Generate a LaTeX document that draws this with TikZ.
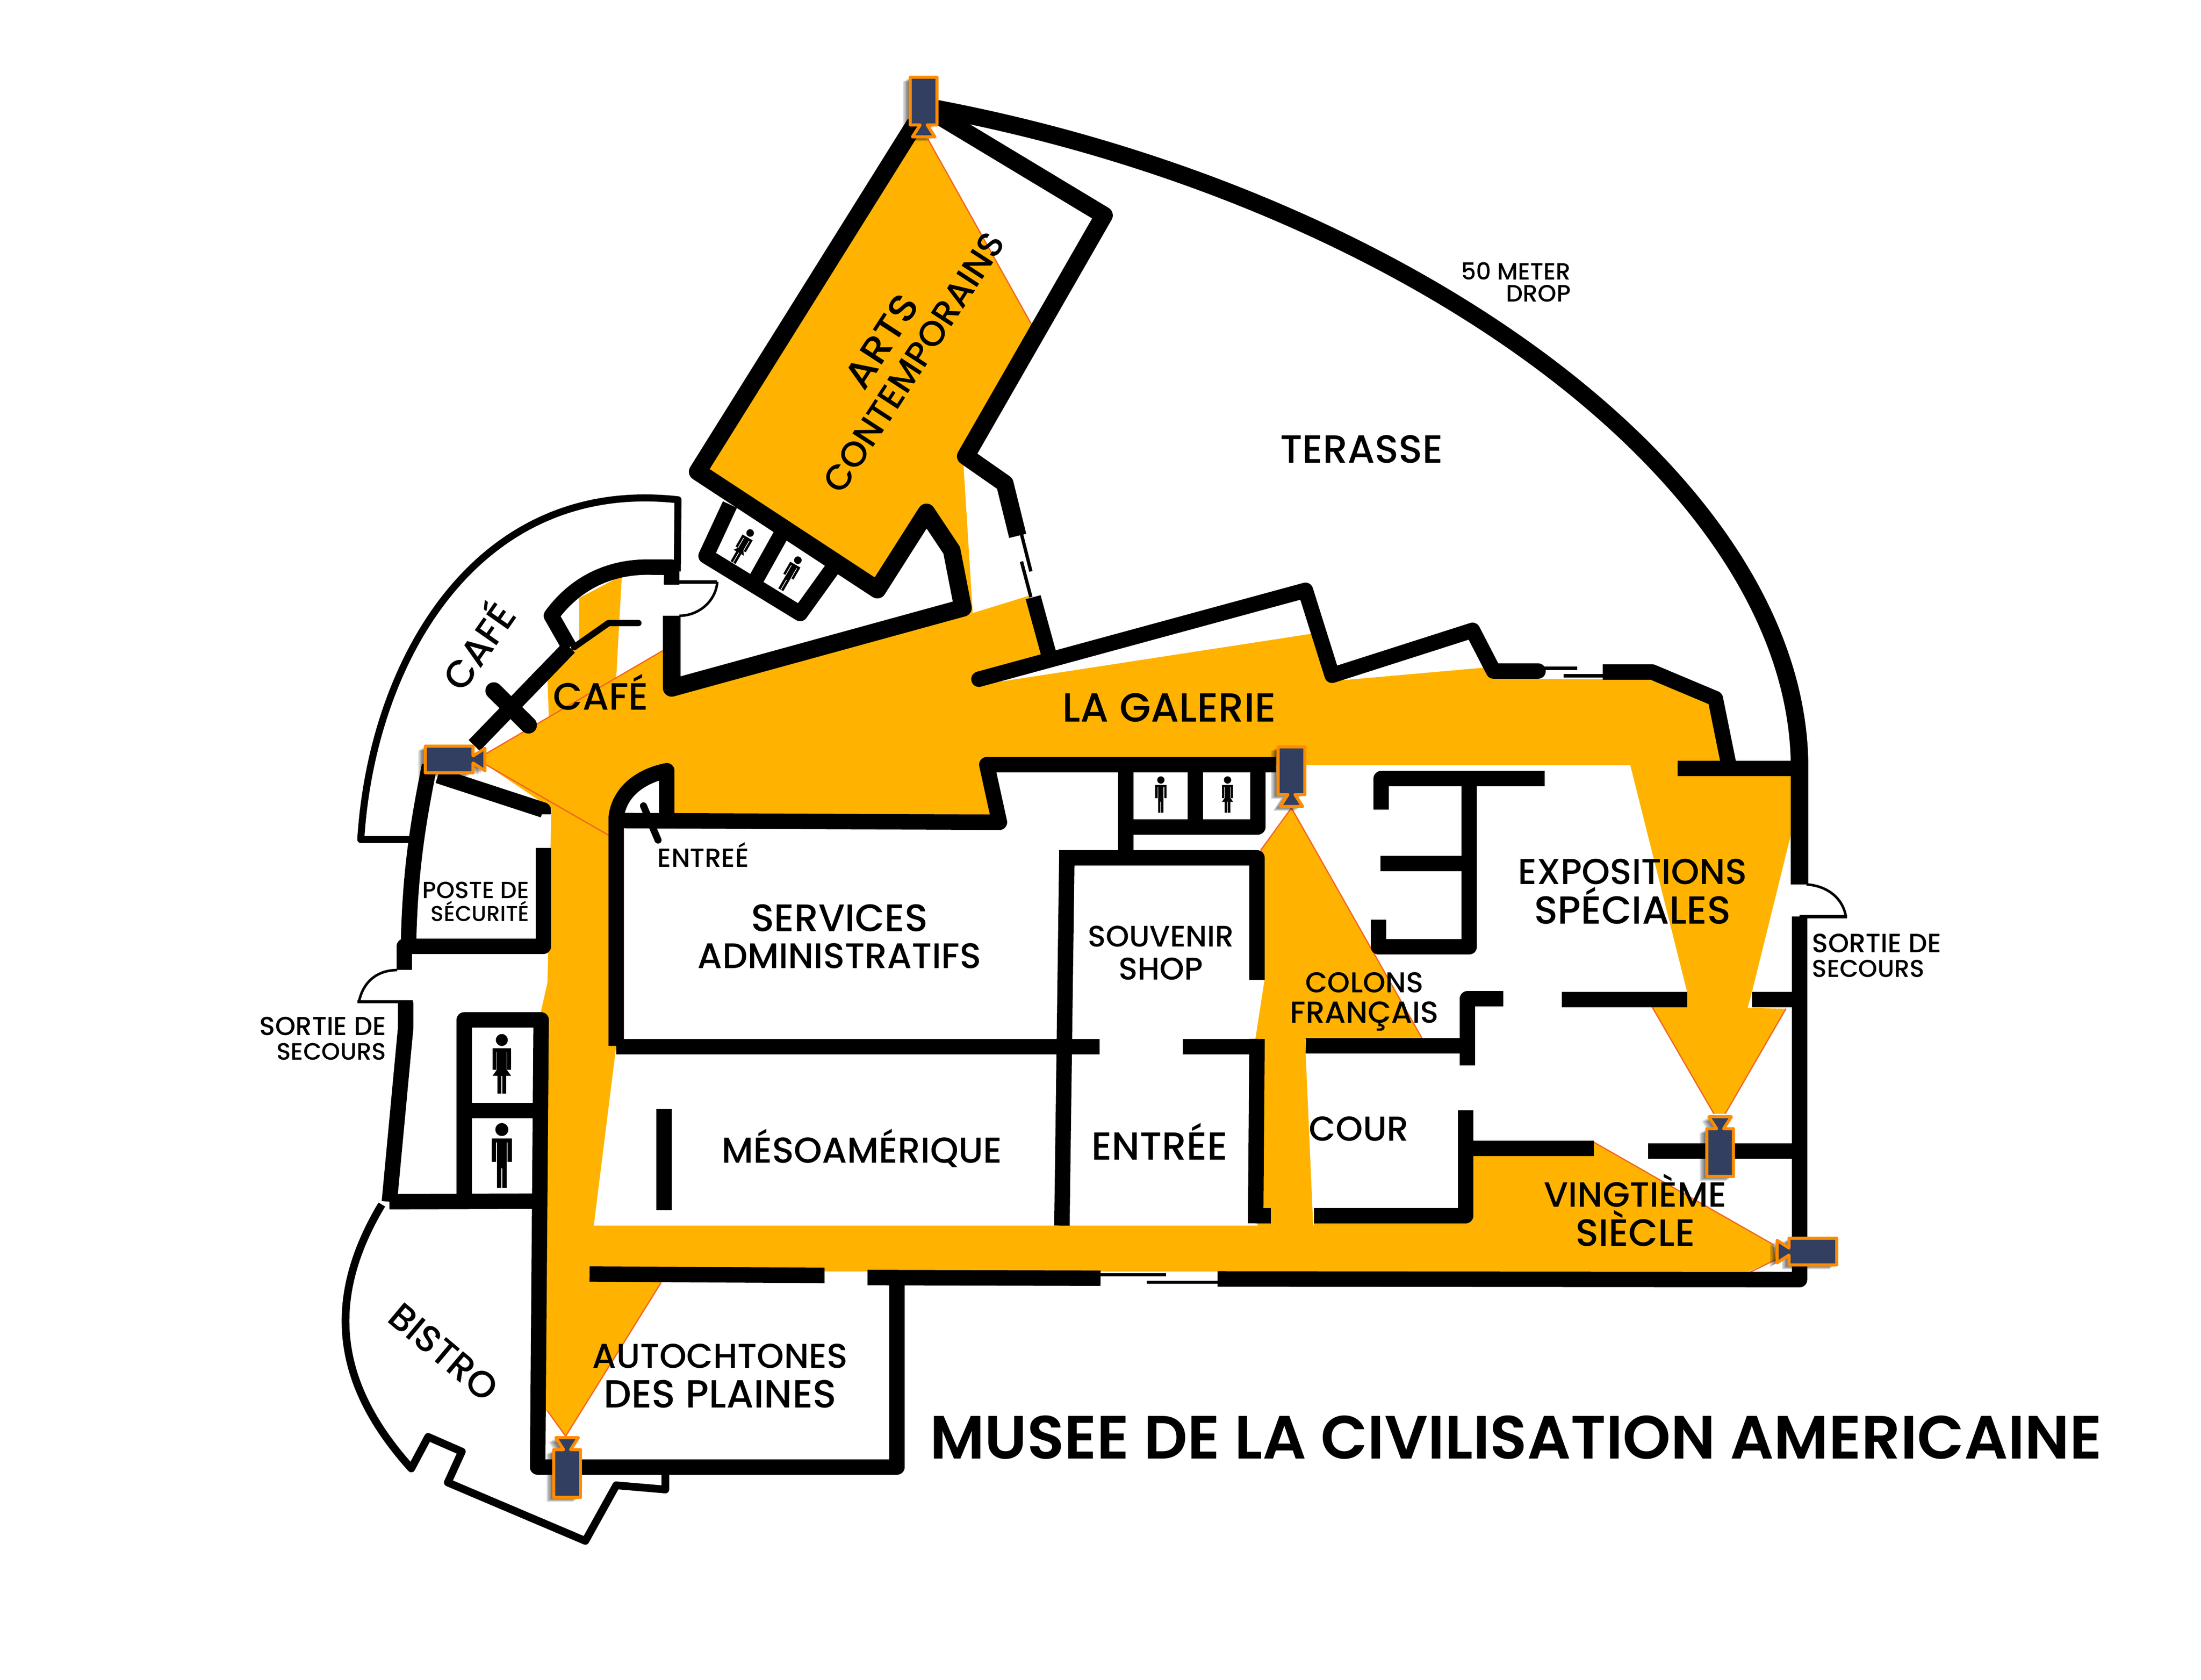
\documentclass[tikz,border=0pt]{standalone}
\usepackage{fontspec}
\usepackage{graphicx}
\setmainfont{Poppins Medium}
\newfontfamily\titlefont{Poppins SemiBold}
\definecolor{amber}{HTML}{FFB300}
\definecolor{coneedge}{HTML}{F26522}
\definecolor{cambody}{HTML}{323F60}
\definecolor{camedge}{HTML}{FF8C00}
\tikzset{
  wall/.style={draw=black,line width=11pt,line join=round},
  heavywall/.style={draw=black,line width=12.5pt,line join=round},
  thinwall/.style={draw=black,line width=4.5pt,line join=round,line cap=round},
  hair/.style={draw=black,line width=2.4pt},
  cone/.style={draw=coneedge,line width=0.9pt},
  lab/.style={inner sep=0pt,outer sep=0pt,text=black}
}
\newcommand{\campath}{(-17,-9.5)--(17,-9.5)--(17,-2.5)--(25.5,-8)--(25.5,8)--(17,2.5)--(17,9.5)--(-17,9.5)--cycle}
\newcommand{\camera}[3]{%
  \begin{scope}[shift={(#1,#2)}]
    \foreach \s in {5,4,3,2,1}{
      \begin{scope}[shift={(-\s,0.6*\s)},rotate=#3]
        \fill[black,opacity=0.16] \campath;
      \end{scope}}
    \begin{scope}[rotate=#3]
      \filldraw[fill=cambody,draw=camedge,line width=2.2pt,line join=round] \campath;
    \end{scope}
  \end{scope}}
% x, y, rotation, height, dress flag (1 = dress)
\newcommand{\person}[5]{%
  \begin{scope}[shift={(#1,#2)},rotate=#3,scale=#4]
    \fill[black] (0,-.4) circle (.1);
    \fill[black] (-.155,-.265) rectangle (.155,.1);
    \fill[black] (-.075,.09) rectangle (.075,.5);
    \draw[white,line width=.45pt] (-.083,-.2)--(-.083,.1) (.083,-.2)--(.083,.1);
    \ifnum#5=1
      \fill[black] (-.155,.2)--(.155,.2)--(.07,.08)--(-.07,.08)--cycle;
      \draw[white,line width=.45pt] (0,.2)--(0,.5);
    \else
      \draw[white,line width=.45pt] (0,.2)--(0,.5);
    \fi
  \end{scope}}
\newcommand{\fit}[2]{\resizebox{#1pt}{!}{#2}}
\begin{document}
\begin{tikzpicture}[x=1pt,y=-1pt]
\useasboundingbox (0,0) rectangle (1568,1196.6);
\fill[white] (0,0) rectangle (1568,1196.6);

% ---------- surveyed areas
\fill[amber] (661,99)--(737,235)--(686,325)--(693,437)--(682,437)--(680,390)--(660,365)--(625,420)--(497,336)--(650,90)--cycle;
\fill[amber] (346,537)--(391,511)--(390,484)--(405,462)--(412.6,458)--(412.6,426)--(443,410)--(439,482.5)--(473,463)--(478,490)--(692,437)--(732.6,424.5)--(747,465)--(703,487)--(934.6,451.4)--(945,480)--(951,485)--(1057,475.6)--(1064,483.5)--(1175,484)--(1218,500.6)--(1232,545)--(1277,548)--(1277.2,589)--(1248,707)--(1245,718)--(1272.3,718.5)--(1229,793.4)--(1221,793.4)--(1177,717.3)--(1190,710)--(1202,707)--(1161.4,545)--(930,545)--(703,545)--(712,586)--(475,585)--(475,549)..controls(455,553)and(441,565)..(439,582)--(439,745)--(423,873)--(936,873)--(936,866)--(1044,866)--(1044,822.4)--(1135.4,813.6)--(1263.4,886.6)--(1265,897.3)--(1245.4,905.8)--(569,905.6)--(420,905.6)--(471,913.5)--(403,1023)--(390,1005)--(383,1005)--(385,722)--(390,700)--(392.8,576)--(346,544.6)--cycle;
\fill[amber] (920,575.5)--(1013.4,740.2)--(929.7,740.2)--(935.5,873)--(896,873)--(894.3,740.2)--(901,697)--(898,605.8)--cycle;

\draw[cone] (661,99)--(737,235);
\draw[cone] (346,537)--(473,463);
\draw[cone] (346,544.6)--(433.7,595);
\draw[cone] (403,1023)--(471,913.5);
\draw[cone] (403,1023)--(390,1005);
\draw[cone] (920,575.5)--(898,605.8);
\draw[cone] (920,575.5)--(1013.4,740.2);
\draw[cone] (1221,793.4)--(1177,717.3);
\draw[cone] (1229,793.4)--(1272.3,718.5);
\draw[cone] (1135.4,813.6)--(1263.4,886.6);
\draw[cone] (1265,897.3)--(1245.4,906.8);

% ---------- thin outer walls
\draw[black,line width=5pt,line join=round] (298,598)--(257,598)..controls(265,470)and(340,340)..(483,356)--(482.5,407);
\draw[black,line width=5.5pt,line join=round] (272,858)..controls(232,925)and(238,985)..(293,1046)--(305,1023.5)--(329,1034)--(319,1056)--(417,1097.6)--(439,1058)--(474,1061)--(474,1044);

% ---------- walls
\draw[heavywall] (665,77)..controls(1000,140)and(1280,340)..(1282,545)--(1282,630);
\draw[wall] (1282,652.8)--(1282,911.5)--(867.4,911);
\draw[wall] (618,910)--(784,910.5);
\draw[wall] (420,907.5)--(587.4,908.5);
\draw[wall] (639,910)--(639,1045)--(383,1045)--(385.5,726.5)--(330.7,726.5)--(330.7,855.6);
\draw[wall] (330.7,791)--(385,791);
\draw[wall] (277.4,856)--(385,855.6);
% arts wing
\draw[heavywall] (668,82)--(786.5,153.4)--(688,325)--(715.8,344.4)--(725,381.7);
\draw[wall] (736,425.4)--(747,465.5);
\draw[heavywall] (652,88)--(497,336)--(625,420)--(660,365)--(678,392)--(686,433)--(478.5,490)--(478.5,438.6);
\draw[wall] (478.5,416.5)--(478.5,404)--(465,404)..controls(435,403)and(410,415)..(392.8,438.6)--(405.6,461);
\draw[wall] (337.8,531)--(405.6,461);
% arts wing toilets
\draw[wall] (520,359.4)--(503,396)--(570,437)--(593,405);
\draw[wall] (558,378)--(534,421);
\draw[thinwall] (409,461)--(433.5,443.8)--(454.8,443.8);
\draw[black,line width=12pt,line cap=round] (351.8,492)--(376.5,516.5);
% left side
\draw[wall] (306,545)..controls(298,585)and(292,620)..(291,674);
\draw[wall] (288,691)--(288,674)--(387,674)--(387,604);
\draw[wall] (289,714)--(289,732)--(277.4,856);
\draw[wall] (312,552.5)--(387,577)--(387,580);
% services and galerie south wall
\draw[wall] (439,745)--(439,582)..controls(441,565)and(455,553)..(475,549)--(475,590);
\draw[wall] (439,584.5)--(712,585.7)--(703,544.7)--(909,544.7);
\draw[wall] (439,745.5)--(783.3,745.5);
\draw[wall] (842.6,745.5)--(895.5,745.5);
\draw[wall] (473,790)--(473,862);
\draw[wall] (802,544.7)--(802,611);
\draw[wall] (851.5,544.7)--(851.5,589);
\draw[wall] (896,544.7)--(896,589)--(802,589);
\draw[wall] (754.6,611)--(895.5,611)--(895.5,698);
\draw[wall] (760,611)--(756.5,873);
\draw[wall] (895.5,740)--(894.5,871.4);
\draw[wall] (894.5,866)--(905.5,866);
% galerie north wall
\draw[wall,line cap=round] (697.4,483.8)--(930,420.5)--(949,481)--(1049,449)--(1064,478)--(1095.7,478);
\draw[wall] (1141.8,478.7)--(1177,478.7)--(1222,497.6)--(1232,547);
\draw[wall] (1195,547.5)--(1282,547.5);
% exhibition rooms
\draw[wall] (984,576.7)--(984,554.7)--(1100.5,554.7);
\draw[wall] (1046.7,554.7)--(1046.7,674.5)--(982,674.5)--(982,655);
\draw[wall] (983.5,615)--(1046.7,615);
\draw[wall] (1071,711.4)--(1045.5,711.4)--(1045.5,759);
\draw[wall] (930,745)--(1045.5,745);
\draw[wall] (1112.5,712)--(1202,712);
\draw[wall] (1248,712)--(1282,712);
\draw[wall] (1044,791)--(1044,866)--(936,866);
\draw[wall] (1044,818)--(1135.4,818);
\draw[wall] (1174,820)--(1282,820);

% ---------- doors
\draw[hair] (727.7,380.5)--(734.4,407);
\draw[hair] (727.7,400)--(734.4,425.4);
\draw[hair] (1095.7,476)--(1123.5,476);
\draw[hair] (1114,481.4)--(1141.8,481.4);
\draw[hair] (784,908)--(830.7,908);
\draw[hair] (817,913.4)--(867.4,913.4);
\draw[hair] (473,414.5)--(511,414.5);
\draw[line width=1.8pt] (511,414.5)..controls(510,428)and(498,438.6)..(484,438.6);
\draw[line width=1.8pt] (1287,630)..controls(1302,631)and(1313,640)..(1315,653);
\draw[hair] (1282,653)--(1316,653);
\draw[line width=1.8pt] (283,691)..controls(270,691)and(259,698)..(255.7,713.6);
\draw[hair] (254.7,713.6)--(294,713.6);
\draw[black,line width=5pt,line cap=round] (458.4,574)--(468.8,598.4);

% ---------- toilets figures
\person{529}{389}{-30}{27}{1}
\person{563}{408.4}{-30}{27}{0}
\person{827}{566}{0}{26}{0}
\person{874.5}{566}{0}{26}{1}
\person{357.5}{757.8}{0}{42.5}{1}
\person{357.5}{823}{0}{46}{0}

% ---------- cameras
\camera{658}{72}{-90}
\camera{320}{541}{0}
\camera{920}{549}{-90}
\camera{1225.4}{821}{90}
\camera{1291.5}{891.5}{180}
\camera{404}{1049.6}{90}

% ---------- labels
\node[lab] (terasse) at (970,320) {\fit{116}{TERASSE}};
\node[lab,anchor=east] (drop1) at (1119,193) {\fit{78}{50 METER}};
\node[lab,anchor=east] (drop2) at (1119,209) {\fit{46}{DROP}};
\node[lab,rotate=57] (arts1) at (628,243) {\resizebox{74pt}{19pt}{ARTS}};
\node[lab,rotate=57] (arts2) at (651,258) {\fit{215}{CONTEMPORAINS}};
\node[lab,rotate=55] (cafe1) at (339,459) {\fit{68}{CAFÉ}};
\node[lab] (cafe2) at (428,493) {\fit{68}{CAFÉ}};
\node[lab] (galerie) at (833,504) {\fit{152}{LA GALERIE}};
\node[lab] (entree1) at (501,609) {\fit{65}{ENTREÉ}};
\node[lab] (poste1) at (339,634) {\fit{76}{POSTE DE}};
\node[lab] (poste2) at (342,649) {\fit{70}{SÉCURITÉ}};
\node[lab] (serv1) at (598,654) {\fit{126}{SERVICES}};
\node[lab] (serv2) at (598,681) {\fit{202}{ADMINISTRATIFS}};
\node[lab] (souv1) at (827,667) {\fit{104}{SOUVENIR}};
\node[lab] (souv2) at (827,690) {\fit{60}{SHOP}};
\node[lab] (colons1) at (972,700) {\fit{84}{COLONS}};
\node[lab] (colons2) at (972,724) {\fit{106}{FRANÇAIS}};
\node[lab] (expo1) at (1163,621) {\fit{163}{EXPOSITIONS}};
\node[lab] (expo2) at (1163,645) {\fit{140}{SPÉCIALES}};
\node[lab,anchor=west] (sortr1) at (1291,672) {\fit{92}{SORTIE DE}};
\node[lab,anchor=west] (sortr2) at (1291,690) {\fit{80}{SECOURS}};
\node[lab,anchor=east] (sortl1) at (275,731) {\fit{90}{SORTIE DE}};
\node[lab,anchor=east] (sortl2) at (275,749) {\fit{78}{SECOURS}};
\node[lab] (meso) at (614,818) {\fit{200}{MÉSOAMÉRIQUE}};
\node[lab] (entree2) at (826,813) {\fit{97}{ENTRÉE}};
\node[lab] (cour) at (968,804) {\fit{71}{COUR}};
\node[lab] (vingt1) at (1165,848) {\fit{130}{VINGTIÈME}};
\node[lab] (vingt2) at (1165,875) {\fit{85}{SIÈCLE}};
\node[lab] (auto1) at (513,966) {\fit{182}{AUTOCHTONES}};
\node[lab] (auto2) at (513,993) {\fit{166}{DES PLAINES}};
\node[lab,rotate=-40] (bistro) at (316,963) {\fit{92}{BISTRO}};
\node[lab] (title) at (1080,1024) {\fit{835}{\titlefont MUSEE DE LA CIVILISATION AMERICAINE}};
\end{tikzpicture}
\end{document}
